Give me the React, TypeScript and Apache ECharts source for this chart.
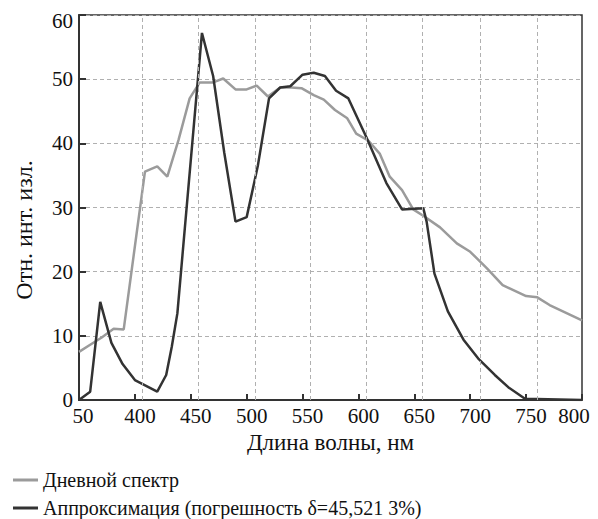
import React, { useEffect, useRef } from "react";
import * as echarts from "echarts";

const dayX = [350, 360, 370, 381, 390, 409, 420, 429, 439, 449, 458, 470, 479, 490, 500, 509, 519, 530, 540, 549, 560, 569, 579, 590, 598, 609, 619, 628, 639, 649, 659, 673, 688, 700, 715, 729, 750, 760, 771, 800];
const dayY = [7.5, 8.6, 9.7, 11.1, 11.0, 35.6, 36.4, 34.8, 40.5, 47.0, 49.5, 49.5, 50.1, 48.4, 48.4, 49.0, 47.3, 48.7, 48.7, 48.6, 47.5, 46.8, 45.2, 43.9, 41.5, 40.4, 38.4, 34.8, 32.7, 29.7, 28.6, 26.9, 24.4, 23.1, 20.5, 17.9, 16.2, 16.0, 14.8, 12.4];

const approxX = [350, 360, 369, 379, 389, 400, 420, 428, 433, 438, 460, 470, 480, 490, 500, 510, 520, 530, 539, 550, 560, 570, 580, 591, 607, 625, 639, 658, 661, 668, 680, 694, 707, 722, 734, 749, 800];
const approxY = [0, 1.3, 15.3, 8.9, 5.6, 3.1, 1.3, 3.9, 8.3, 13.5, 57.2, 50.5, 38.5, 27.8, 28.5, 36.5, 47, 48.7, 48.9, 50.7, 51, 50.5, 48.2, 47, 41, 33.8, 29.7, 29.9, 27.8, 19.7, 13.8, 9.4, 6.5, 3.9, 2.0, 0.2, 0];

const gridX = [407, 457, 508, 557, 607, 657, 709, 760];

const seriesNames = ["Дневной спектр", "Аппроксимация (погрешность δ=45,521 3%)"];
const xTitle = "Длина волны, нм";
const yTitle = "Отн. инт. изл.";

const FONT = "'Liberation Serif', 'Times New Roman', serif";
const TICK = 21;

function zip(xs: number[], ys: number[]) {
  return xs.map((x, i) => [x, ys[i]]);
}

export default function App() {
  const ref = useRef<HTMLDivElement>(null);
  useEffect(() => {
    if (!ref.current) return;
    const chart = echarts.init(ref.current, null, { renderer: "svg" });
    const legendBase = {
      orient: "horizontal",
      left: 13,
      padding: 0,
      itemWidth: 25,
      itemHeight: 3,
      textStyle: { fontFamily: FONT, fontSize: 20, color: "#111" },
    };
    const rs = (pad: number[]) => ({ fontFamily: FONT, fontSize: TICK, color: "#111", padding: pad });
    chart.setOption({
      animation: false,
      backgroundColor: "#fff",
      textStyle: { fontFamily: FONT },
      grid: {
        left: 79,
        right: 16,
        top: 15,
        bottom: 119,
        show: true,
        borderColor: "#333",
        borderWidth: 1.5,
        containLabel: false,
      },
      xAxis: {
        type: "value",
        min: 350,
        max: 800,
        interval: 50,
        name: xTitle,
        nameLocation: "middle",
        nameGap: 31,
        nameTextStyle: { fontFamily: FONT, fontSize: 23, color: "#111" },
        axisLine: { lineStyle: { color: "#333", width: 2 } },
        axisTick: { inside: true, length: 6, lineStyle: { color: "#333", width: 2 } },
        splitLine: { show: false },
        axisLabel: {
          margin: 5,
          fontFamily: FONT,
          fontSize: TICK,
          color: "#111",
          formatter: (v: number) => {
            if (v === 350) return "{f|50}";
            if (v === 800) return "{l|800}";
            return "{n|" + v + "}";
          },
          rich: {
            f: rs([0, 0, 0, 8]),
            n: rs([0, 0, 0, 10]),
            l: rs([0, 16, 0, 0]),
          },
        },
      },
      yAxis: {
        type: "value",
        min: 0,
        max: 60,
        interval: 10,
        axisLine: { show: true, lineStyle: { color: "#333", width: 2 } },
        axisTick: { show: true, inside: true, length: 7, lineStyle: { color: "#333", width: 2 } },
        splitLine: { show: true, lineStyle: { color: "#b0b0b0", width: 1, type: [4, 3] } },
        axisLabel: {
          margin: 6,
          fontFamily: FONT,
          fontSize: TICK,
          color: "#111",
          formatter: (v: number) => (v === 60 ? "{t|60}" : "{n|" + v + "}"),
          rich: {
            t: rs([12, 0, 0, 0]),
            n: rs([0, 0, 0, 0]),
          },
        },
      },
      legend: [
        { ...legendBase, top: 470, data: [{ name: seriesNames[0], icon: "rect" }] },
        { ...legendBase, top: 498, data: [{ name: seriesNames[1], icon: "rect" }] },
      ],
      graphic: [
        {
          type: "text",
          x: 24,
          y: 230,
          rotation: Math.PI / 2,
          style: {
            text: yTitle,
            fontFamily: FONT,
            fontSize: 24,
            fill: "#111",
            align: "center",
            verticalAlign: "middle",
          },
        },
      ],
      series: [
        {
          type: "line",
          name: "grid",
          data: [],
          z: 1,
          silent: true,
          markLine: {
            silent: true,
            symbol: ["none", "none"],
            label: { show: false },
            lineStyle: { type: [4, 3], color: "#b0b0b0", width: 1 },
            data: gridX.map((x) => ({ xAxis: x })),
          },
        },
        {
          type: "line",
          name: seriesNames[0],
          data: zip(dayX, dayY),
          symbol: "none",
          z: 2,
          lineStyle: { color: "#9b9b9b", width: 2.5 },
          itemStyle: { color: "#9b9b9b" },
        },
        {
          type: "line",
          name: seriesNames[1],
          data: zip(approxX, approxY),
          symbol: "none",
          z: 3,
          lineStyle: { color: "#333333", width: 2.5 },
          itemStyle: { color: "#333333" },
        },
      ],
    });
    return () => chart.dispose();
  }, []);
  return (
    <div
      ref={ref}
      style={{ position: "fixed", left: 0, top: 0, width: 598, height: 519 }}
    />
  );
}
